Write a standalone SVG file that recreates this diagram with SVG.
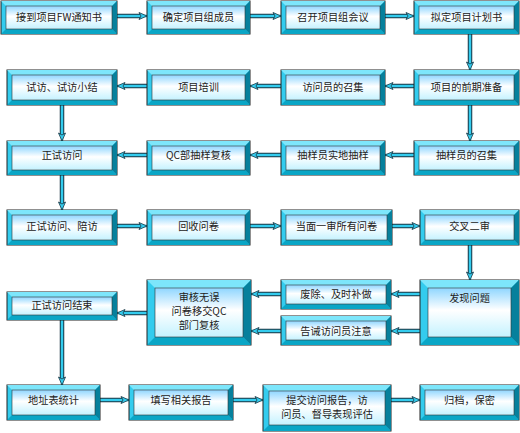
<svg xmlns="http://www.w3.org/2000/svg" width="520" height="433" viewBox="0 0 520 433">
<defs>
<linearGradient id="face" x1="0" y1="0" x2="0" y2="1">
<stop offset="0" stop-color="#8fd6ff"/>
<stop offset="0.45" stop-color="#ffffff"/>
<stop offset="1" stop-color="#c4f2ff"/>
</linearGradient>
<marker id="ah" markerUnits="userSpaceOnUse" markerWidth="12" markerHeight="12" viewBox="-10 -6 12 12" refX="0" refY="0" orient="auto">
<path d="M-8,-3.5 L0,0 L-8,3.5 L-6,0 Z" fill="#33ccee" stroke="#1a3340" stroke-width="0.8"/>
</marker>
<style>
.o{fill:#33ccee;stroke:#222;stroke-width:1}
.t{fill:#7de6fb}
.b{fill:#0aa6c6}
.r{fill:#06809c}
.f{fill:url(#face);stroke:#333;stroke-width:0.6}
text{font-family:"Noto Sans CJK SC","Liberation Sans",sans-serif;font-size:10.2px;fill:#222;text-anchor:middle}
.co{fill:none;stroke:#1a3340;stroke-width:4.5}
.ci{fill:none;stroke:#33ccee;stroke-width:2.5}
</style>
</defs>
<rect width="520" height="433" fill="#ffffff"/>

<g id="connectors">
<g class="co">
<path d="M117,16 H141"/><path d="M250,16 H275"/><path d="M385,16 H408"/>
<path d="M470,34 V64"/><path d="M414,86 H391"/><path d="M281,86 H256"/><path d="M147,86 H123"/>
<path d="M62,105 V135"/><path d="M470,105 V135"/>
<path d="M414,155 H391"/><path d="M281,155 H256"/><path d="M147,155 H123"/>
<path d="M62,175 V204"/>
<path d="M117,226 H141"/><path d="M250,226 H275"/><path d="M392,226 H414"/>
<path d="M470,245 V274"/>
<path d="M420,294 H397"/><path d="M420,331 H397"/><path d="M281,294 H257"/><path d="M281,331 H257"/>
<path d="M147,313 H123"/>
<path d="M62,320 V379"/>
<path d="M100,400 H123"/><path d="M233,400 H257"/><path d="M391,400 H414"/>
</g>
<g class="ci" marker-end="url(#ah)">
<path d="M117,16 H147"/><path d="M250,16 H281"/><path d="M385,16 H414"/>
<path d="M470,34 V70"/><path d="M414,86 H385"/><path d="M281,86 H250"/><path d="M147,86 H117"/>
<path d="M62,105 V141"/><path d="M470,105 V141"/>
<path d="M414,155 H385"/><path d="M281,155 H250"/><path d="M147,155 H117"/>
<path d="M62,175 V210"/>
<path d="M117,226 H147"/><path d="M250,226 H281"/><path d="M392,226 H420"/>
<path d="M470,245 V280"/>
<path d="M420,294 H391"/><path d="M420,331 H391"/><path d="M281,294 H251"/><path d="M281,331 H251"/>
<path d="M147,313 H117"/>
<path d="M62,320 V385"/>
<path d="M100,400 H129"/><path d="M233,400 H263"/><path d="M391,400 H420"/>
</g>
</g>

<g id="n1" transform="translate(1,1)">
<rect class="o" width="116" height="33"/><polygon class="t" points="0,0 116,0 111,5 5,5"/><polygon class="b" points="0,33 5,28 111,28 116,33"/><polygon class="r" points="116,0 116,33 111,28 111,5"/><rect class="f" x="5" y="5" width="106" height="23"/>
<text x="58" y="20">接到项目FW通知书</text></g>

<g id="n2" transform="translate(147,1)">
<rect class="o" width="103" height="33"/><polygon class="t" points="0,0 103,0 98,5 5,5"/><polygon class="b" points="0,33 5,28 98,28 103,33"/><polygon class="r" points="103,0 103,33 98,28 98,5"/><rect class="f" x="5" y="5" width="93" height="23"/>
<text x="51.5" y="20">确定项目组成员</text></g>

<g id="n3" transform="translate(281,1)">
<rect class="o" width="104" height="33"/><polygon class="t" points="0,0 104,0 99,5 5,5"/><polygon class="b" points="0,33 5,28 99,28 104,33"/><polygon class="r" points="104,0 104,33 99,28 99,5"/><rect class="f" x="5" y="5" width="94" height="23"/>
<text x="52" y="20">召开项目组会议</text></g>

<g id="n4" transform="translate(414,1)">
<rect class="o" width="105" height="33"/><polygon class="t" points="0,0 105,0 100,5 5,5"/><polygon class="b" points="0,33 5,28 100,28 105,33"/><polygon class="r" points="105,0 105,33 100,28 100,5"/><rect class="f" x="5" y="5" width="95" height="23"/>
<text x="52.5" y="20">拟定项目计划书</text></g>

<g id="n5" transform="translate(414,70)">
<rect class="o" width="105" height="35"/><polygon class="t" points="0,0 105,0 100,5 5,5"/><polygon class="b" points="0,35 5,30 100,30 105,35"/><polygon class="r" points="105,0 105,35 100,30 100,5"/><rect class="f" x="5" y="5" width="95" height="25"/>
<text x="52.5" y="21">项目的前期准备</text></g>

<g id="n6" transform="translate(281,70)">
<rect class="o" width="104" height="35"/><polygon class="t" points="0,0 104,0 99,5 5,5"/><polygon class="b" points="0,35 5,30 99,30 104,35"/><polygon class="r" points="104,0 104,35 99,30 99,5"/><rect class="f" x="5" y="5" width="94" height="25"/>
<text x="52" y="21">访问员的召集</text></g>

<g id="n7" transform="translate(147,70)">
<rect class="o" width="103" height="35"/><polygon class="t" points="0,0 103,0 98,5 5,5"/><polygon class="b" points="0,35 5,30 98,30 103,35"/><polygon class="r" points="103,0 103,35 98,30 98,5"/><rect class="f" x="5" y="5" width="93" height="25"/>
<text x="51.5" y="21">项目培训</text></g>

<g id="n8" transform="translate(7,70)">
<rect class="o" width="110" height="35"/><polygon class="t" points="0,0 110,0 105,5 5,5"/><polygon class="b" points="0,35 5,30 105,30 110,35"/><polygon class="r" points="110,0 110,35 105,30 105,5"/><rect class="f" x="5" y="5" width="100" height="25"/>
<text x="55" y="21">试访、试访小结</text></g>

<g id="n9" transform="translate(7,141)">
<rect class="o" width="110" height="34"/><polygon class="t" points="0,0 110,0 105,5 5,5"/><polygon class="b" points="0,34 5,29 105,29 110,34"/><polygon class="r" points="110,0 110,34 105,29 105,5"/><rect class="f" x="5" y="5" width="100" height="24"/>
<text x="55" y="18">正试访问</text></g>

<g id="n10" transform="translate(147,141)">
<rect class="o" width="103" height="34"/><polygon class="t" points="0,0 103,0 98,5 5,5"/><polygon class="b" points="0,34 5,29 98,29 103,34"/><polygon class="r" points="103,0 103,34 98,29 98,5"/><rect class="f" x="5" y="5" width="93" height="24"/>
<text x="51.5" y="18">QC部抽样复核</text></g>

<g id="n11" transform="translate(281,141)">
<rect class="o" width="104" height="34"/><polygon class="t" points="0,0 104,0 99,5 5,5"/><polygon class="b" points="0,34 5,29 99,29 104,34"/><polygon class="r" points="104,0 104,34 99,29 99,5"/><rect class="f" x="5" y="5" width="94" height="24"/>
<text x="52" y="18">抽样员实地抽样</text></g>

<g id="n12" transform="translate(414,141)">
<rect class="o" width="105" height="34"/><polygon class="t" points="0,0 105,0 100,5 5,5"/><polygon class="b" points="0,34 5,29 100,29 105,34"/><polygon class="r" points="105,0 105,34 100,29 100,5"/><rect class="f" x="5" y="5" width="95" height="24"/>
<text x="52.5" y="18">抽样员的召集</text></g>

<g id="n13" transform="translate(7,210)">
<rect class="o" width="110" height="35"/><polygon class="t" points="0,0 110,0 105,5 5,5"/><polygon class="b" points="0,35 5,30 105,30 110,35"/><polygon class="r" points="110,0 110,35 105,30 105,5"/><rect class="f" x="5" y="5" width="100" height="25"/>
<text x="55" y="20">正试访问、陪访</text></g>

<g id="n14" transform="translate(147,210)">
<rect class="o" width="103" height="35"/><polygon class="t" points="0,0 103,0 98,5 5,5"/><polygon class="b" points="0,35 5,30 98,30 103,35"/><polygon class="r" points="103,0 103,35 98,30 98,5"/><rect class="f" x="5" y="5" width="93" height="25"/>
<text x="51.5" y="20">回收问卷</text></g>

<g id="n15" transform="translate(281,210)">
<rect class="o" width="111" height="35"/><polygon class="t" points="0,0 111,0 106,5 5,5"/><polygon class="b" points="0,35 5,30 106,30 111,35"/><polygon class="r" points="111,0 111,35 106,30 106,5"/><rect class="f" x="5" y="5" width="101" height="25"/>
<text x="55.5" y="20">当面一审所有问卷</text></g>

<g id="n16" transform="translate(420,210)">
<rect class="o" width="99" height="35"/><polygon class="t" points="0,0 99,0 94,5 5,5"/><polygon class="b" points="0,35 5,30 94,30 99,35"/><polygon class="r" points="99,0 99,35 94,30 94,5"/><rect class="f" x="5" y="5" width="89" height="25"/>
<text x="49.5" y="20">交叉二审</text></g>

<g id="n17" transform="translate(420,280)">
<rect class="o" width="99" height="65"/><polygon class="t" points="0,0 99,0 91,8 8,8"/><polygon class="b" points="0,65 8,57 91,57 99,65"/><polygon class="r" points="99,0 99,65 91,57 91,8"/><rect class="f" x="8" y="8" width="83" height="49"/>
<text x="49.5" y="22">发现问题</text></g>

<g id="n18" transform="translate(281,280)">
<rect class="o" width="110" height="29"/><polygon class="t" points="0,0 110,0 105,5 5,5"/><polygon class="b" points="0,29 5,24 105,24 110,29"/><polygon class="r" points="110,0 110,29 105,24 105,5"/><rect class="f" x="5" y="5" width="100" height="19"/>
<text x="55" y="18">废除、及时补做</text></g>

<g id="n19" transform="translate(281,316)">
<rect class="o" width="110" height="29"/><polygon class="t" points="0,0 110,0 105,5 5,5"/><polygon class="b" points="0,29 5,24 105,24 110,29"/><polygon class="r" points="110,0 110,29 105,24 105,5"/><rect class="f" x="5" y="5" width="100" height="19"/>
<text x="55" y="18.5">告诫访问员注意</text></g>

<g id="n20" transform="translate(147,280)">
<rect class="o" width="104" height="65"/><polygon class="t" points="0,0 104,0 96,8 8,8"/><polygon class="b" points="0,65 8,57 96,57 104,65"/><polygon class="r" points="104,0 104,65 96,57 96,8"/><rect class="f" x="8" y="8" width="88" height="49"/>
<text x="52" y="21">审核无误</text><text x="52" y="35">问卷移交QC</text><text x="52" y="49">部门复核</text></g>

<g id="n21" transform="translate(7,292)">
<rect class="o" width="110" height="28"/><polygon class="t" points="0,0 110,0 105,5 5,5"/><polygon class="b" points="0,28 5,23 105,23 110,28"/><polygon class="r" points="110,0 110,28 105,23 105,5"/><rect class="f" x="5" y="5" width="100" height="18"/>
<text x="55" y="17">正试访问结束</text></g>

<g id="n22" transform="translate(7,385)">
<rect class="o" width="93" height="35"/><polygon class="t" points="0,0 93,0 88,5 5,5"/><polygon class="b" points="0,35 5,30 88,30 93,35"/><polygon class="r" points="93,0 93,35 88,30 88,5"/><rect class="f" x="5" y="5" width="83" height="25"/>
<text x="46.5" y="19">地址表统计</text></g>

<g id="n23" transform="translate(129,385)">
<rect class="o" width="104" height="35"/><polygon class="t" points="0,0 104,0 99,5 5,5"/><polygon class="b" points="0,35 5,30 99,30 104,35"/><polygon class="r" points="104,0 104,35 99,30 99,5"/><rect class="f" x="5" y="5" width="94" height="25"/>
<text x="52" y="19">填写相关报告</text></g>

<g id="n24" transform="translate(263,385)">
<rect class="o" width="128" height="46"/><polygon class="t" points="0,0 128,0 122,6 6,6"/><polygon class="b" points="0,46 6,40 122,40 128,46"/><polygon class="r" points="128,0 128,46 122,40 122,6"/><rect class="f" x="6" y="6" width="116" height="34"/>
<text x="64" y="19">提交访问报告，访</text><text x="64" y="33">问员、督导表现评估</text></g>

<g id="n25" transform="translate(420,385)">
<rect class="o" width="99" height="35"/><polygon class="t" points="0,0 99,0 94,5 5,5"/><polygon class="b" points="0,35 5,30 94,30 99,35"/><polygon class="r" points="99,0 99,35 94,30 94,5"/><rect class="f" x="5" y="5" width="89" height="25"/>
<text x="49.5" y="19">归档，保密</text></g>
</svg>
